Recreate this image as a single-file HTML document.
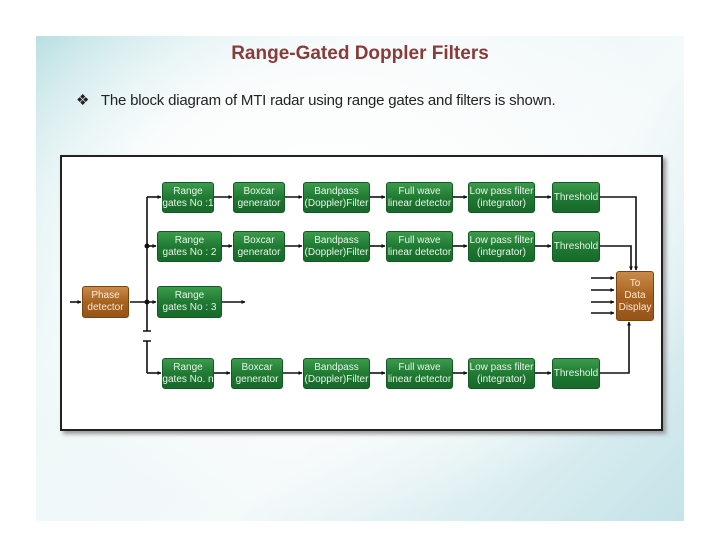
<!DOCTYPE html>
<html><head><meta charset="utf-8"><style>
body{margin:0;width:720px;height:540px;background:#fff;position:relative;overflow:hidden;font-family:"Liberation Sans",sans-serif}
#slide{position:absolute;left:36px;top:36px;width:648px;height:485px;
background:radial-gradient(ellipse 60% 60% at 45% 40%,#ffffff 0%,#fbfdfd 50%,rgba(255,255,255,0) 100%),linear-gradient(135deg,#b9dfe2 0%,#eef7f8 30%,#f4f9fa 60%,#c4e3e8 100%)}
h1{position:absolute;left:0;width:720px;top:43px;margin:0;text-align:center;font-size:19px;color:#8b3a3a;font-weight:bold}
.p{position:absolute;left:76px;top:91px;font-size:15px;color:#222;letter-spacing:-0.2px}
#d{position:absolute;left:60px;top:155px;width:599px;height:272px;border:2px solid #222;background:#fff;box-shadow:3px 3px 4px #999}
.b{position:absolute;background:linear-gradient(#3c9a4d,#1f7a32 50%,#17692a);border:1px solid #145a24;border-radius:3px;color:#e8f5e8;font-size:10px;line-height:12px;text-align:center;display:flex;align-items:center;justify-content:center;box-sizing:border-box;white-space:nowrap}
.o{background:linear-gradient(#c98a4a,#a8621e 50%,#96541a);border-color:#7a4410;color:#fde9d4}
svg{position:absolute;left:0;top:0}
</style></head><body>
<div id="slide"></div>
<h1>Range-Gated Doppler Filters</h1>
<div class="p">❖&nbsp;&nbsp; The block diagram of MTI radar using range gates and filters is shown.</div>
<div id="d"></div>
<svg width="720" height="540">
<defs><marker id="a" markerWidth="4" markerHeight="4" refX="3.5" refY="2" orient="auto" markerUnits="userSpaceOnUse"><path d="M0,0L4,2L0,4z" fill="#111"/></marker></defs>
<g stroke="#111" stroke-width="1.6" fill="none" marker-end="url(#a)">
<path d="M70,302H81"/><path d="M130,302H156"/>
<path d="M147,197H161"/><path d="M147,246H156"/><path d="M147,373H161"/>
<path d="M222,302H245"/>
<path d="M214,197H232"/><path d="M285,197H302"/><path d="M370,197H385"/><path d="M453,197H467"/><path d="M535,197H551"/>
<path d="M222,246H232"/><path d="M285,246H302"/><path d="M370,246H385"/><path d="M453,246H467"/><path d="M535,246H551"/>
<path d="M214,373H230"/><path d="M283,373H302"/><path d="M370,373H385"/><path d="M453,373H467"/><path d="M535,373H551"/>
<path d="M600,197H636V270"/><path d="M600,246H631V270"/><path d="M600,373H629V322"/>
<path d="M591,278H614"/><path d="M591,290H614"/><path d="M591,302H614"/><path d="M591,313H614"/>
</g>
<g stroke="#111" stroke-width="1.6"><path d="M147,197V331M143,331H151M143,341H151M147,341V373"/></g>
<circle cx="147" cy="246" r="2.5" fill="#111"/><circle cx="147" cy="302" r="2.5" fill="#111"/>
</svg>
<div class="b" style="left:162px;top:182px;width:52px;height:31px">Range<br>gates No :1</div>
<div class="b" style="left:157px;top:231px;width:65px;height:31px">Range<br>gates No : 2</div>
<div class="b" style="left:157px;top:286px;width:65px;height:32px">Range<br>gates No : 3</div>
<div class="b" style="left:162px;top:358px;width:52px;height:31px">Range<br>gates No. n</div>
<div class="b" style="left:233px;top:182px;width:52px;height:31px">Boxcar<br>generator</div>
<div class="b" style="left:233px;top:231px;width:52px;height:31px">Boxcar<br>generator</div>
<div class="b" style="left:231px;top:358px;width:52px;height:31px">Boxcar<br>generator</div>
<div class="b" style="left:303px;top:182px;width:67px;height:31px">Bandpass<br>(Doppler)Filter</div>
<div class="b" style="left:303px;top:231px;width:67px;height:31px">Bandpass<br>(Doppler)Filter</div>
<div class="b" style="left:303px;top:358px;width:67px;height:31px">Bandpass<br>(Doppler)Filter</div>
<div class="b" style="left:386px;top:182px;width:67px;height:31px">Full wave<br>linear detector</div>
<div class="b" style="left:386px;top:231px;width:67px;height:31px">Full wave<br>linear detector</div>
<div class="b" style="left:386px;top:358px;width:67px;height:31px">Full wave<br>linear detector</div>
<div class="b" style="left:468px;top:182px;width:67px;height:31px">Low pass filter<br>(integrator)</div>
<div class="b" style="left:468px;top:231px;width:67px;height:31px">Low pass filter<br>(integrator)</div>
<div class="b" style="left:468px;top:358px;width:67px;height:31px">Low pass filter<br>(integrator)</div>
<div class="b" style="left:552px;top:182px;width:48px;height:31px">Threshold</div>
<div class="b" style="left:552px;top:231px;width:48px;height:31px">Threshold</div>
<div class="b" style="left:552px;top:358px;width:48px;height:31px">Threshold</div>
<div class="b o" style="left:82px;top:286px;width:47px;height:32px">Phase<br>detector</div>
<div class="b o" style="left:616px;top:271px;width:38px;height:50px">To<br>Data<br>Display</div>
</body></html>
